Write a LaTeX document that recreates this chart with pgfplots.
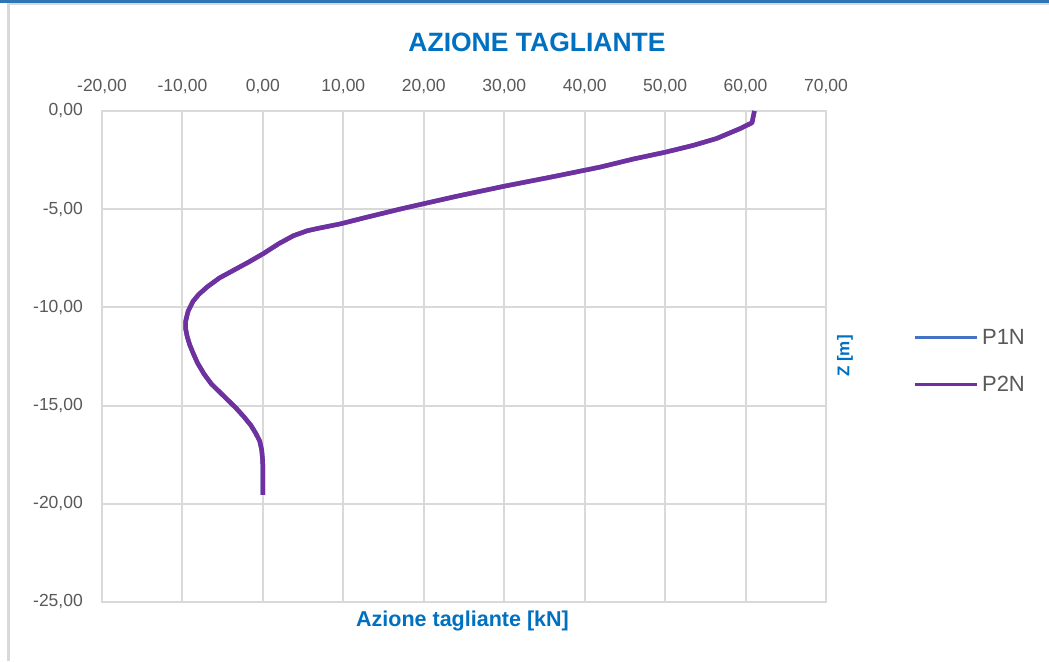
\documentclass[border=0pt]{standalone}
\usepackage{fontspec}
\setmainfont{Liberation Sans}
\usepackage{pgfplots}
\pgfplotsset{compat=1.18}
\definecolor{gridgray}{HTML}{D9D9D9}
\definecolor{ticktext}{HTML}{595959}
\definecolor{titleblue}{HTML}{0070C0}
\definecolor{barblue}{HTML}{2E75B6}
\definecolor{pone}{HTML}{4472C4}
\definecolor{ptwo}{HTML}{7030A0}
\begin{document}
\begin{tikzpicture}[x=1pt,y=1pt]
\fill[white] (0,0) rectangle (1049,661);
\fill[barblue] (0,658) rectangle (1049,661);
\fill[gridgray] (7,656) rectangle (1049,658);
\fill[gridgray] (7,0) rectangle (10,656);
\begin{axis}[
  at={(102pt,59pt)}, anchor=south west,
  scale only axis, width=724pt, height=491pt,
  xmin=-20, xmax=70, ymin=-25, ymax=0,
  xtick={-20,-10,...,70}, ytick={-25,-20,...,0},
  xticklabel pos=upper,
  major tick length=0pt,
  grid=major,
  major grid style={gridgray, line width=2pt},
  axis line style={gridgray, line width=2pt},
  /pgf/number format/assume math mode=true,
  /pgf/number format/.cd, fixed, fixed zerofill, precision=2, use comma, 1000 sep={},
  /pgfplots/.cd,
  ticklabel style={font=\fontsize{17.5}{20}\selectfont, text=ticktext, inner sep=0pt},
  xticklabel style={yshift=17pt},
  yticklabel style={xshift=-19pt},
  legend style={at={(rel axis cs:1.12,0.49)}, anchor=west, draw=none, fill=none,
    font=\fontsize{22}{26}\selectfont, text=ticktext, row sep=22pt,
    inner sep=0pt, nodes={inner sep=4pt}},
  legend cell align=left,
  legend image code/.code={\draw[#1, line width=3pt] (0pt,0pt) -- (62pt,0pt);},
]
\addplot[pone, line width=4.5pt, line join=round] coordinates {
(61.1,0) (60.8,-0.6) (59.3,-0.9) (56.4,-1.4) (53.5,-1.75) (50,-2.1) (46,-2.45)
(42,-2.85) (36,-3.35) (30,-3.83) (24,-4.35) (20,-4.72) (17,-5.0) (13,-5.4)
(9.6,-5.75) (6.8,-5.98) (5.5,-6.1) (3.8,-6.35) (2,-6.75) (0.1,-7.25) (-1.8,-7.7)
(-3.6,-8.1) (-5.4,-8.5) (-6.9,-8.95) (-8,-9.35) (-8.7,-9.7) (-9.3,-10.2)
(-9.6,-10.7) (-9.6,-11.1) (-9.4,-11.5) (-9.1,-11.9) (-8.6,-12.4) (-8.1,-12.85)
(-7.3,-13.4) (-6.4,-13.9) (-5.4,-14.3) (-4.4,-14.7) (-3.4,-15.1) (-2.4,-15.55)
(-1.5,-16) (-0.9,-16.4) (-0.4,-16.8) (-0.15,-17.25) (-0.05,-17.7) (0,-18.1) (0,-19.55)
};
\addlegendentry{P1N}
\addplot[ptwo, line width=4.5pt, line join=round] coordinates {
(61.1,0) (60.8,-0.6) (59.3,-0.9) (56.4,-1.4) (53.5,-1.75) (50,-2.1) (46,-2.45)
(42,-2.85) (36,-3.35) (30,-3.83) (24,-4.35) (20,-4.72) (17,-5.0) (13,-5.4)
(9.6,-5.75) (6.8,-5.98) (5.5,-6.1) (3.8,-6.35) (2,-6.75) (0.1,-7.25) (-1.8,-7.7)
(-3.6,-8.1) (-5.4,-8.5) (-6.9,-8.95) (-8,-9.35) (-8.7,-9.7) (-9.3,-10.2)
(-9.6,-10.7) (-9.6,-11.1) (-9.4,-11.5) (-9.1,-11.9) (-8.6,-12.4) (-8.1,-12.85)
(-7.3,-13.4) (-6.4,-13.9) (-5.4,-14.3) (-4.4,-14.7) (-3.4,-15.1) (-2.4,-15.55)
(-1.5,-16) (-0.9,-16.4) (-0.4,-16.8) (-0.15,-17.25) (-0.05,-17.7) (0,-18.1) (0,-19.55)
};
\addlegendentry{P2N}
\end{axis}
\node[text=titleblue, font=\fontsize{26.5}{30}\selectfont\bfseries] at (537,619) {AZIONE TAGLIANTE};
\node[text=titleblue, font=\fontsize{21.5}{25}\selectfont\bfseries] at (462.5,40) {Azione tagliante [kN]};
\node[text=titleblue, font=\fontsize{17}{20}\selectfont\bfseries, rotate=90] at (845,305) {Z [m]};
\pgfresetboundingbox
\path (0,0) rectangle (1049,661);
\end{tikzpicture}
\end{document}
